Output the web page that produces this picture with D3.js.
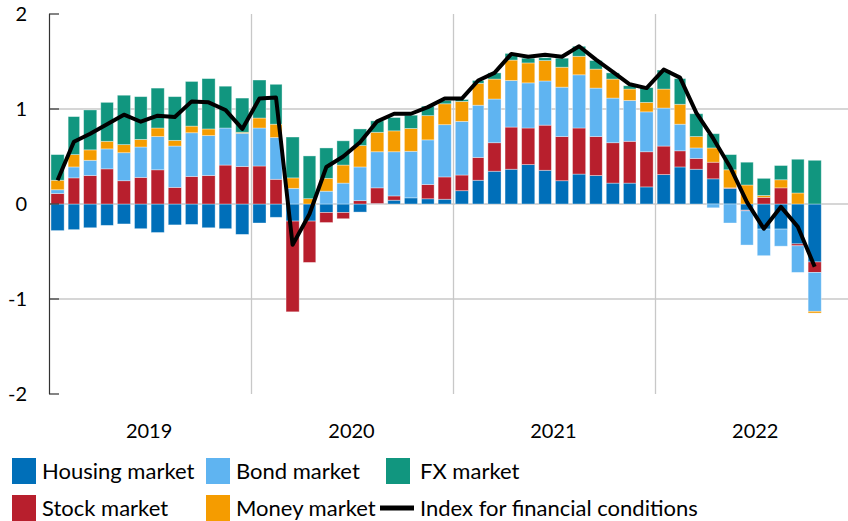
<!DOCTYPE html>
<html>
<head>
<meta charset="utf-8">
<script src="https://cdn.jsdelivr.net/npm/d3@7"></script>
<style>
  body { margin: 0; background: #fff; }
  text { font-family: Lato, 'Open Sans', sans-serif; fill: #000; }
</style>
</head>
<body>
<svg id="chart" width="848" height="521"></svg>
<script>
// Monthly contributions, Jan 2019 - Oct 2022
const months = d3.timeMonth.range(new Date(2019, 0, 1), new Date(2022, 10, 1));
const years = ['2019', '2020', '2021', '2022'];
const y_ticks = [-2, -1, 0, 1, 2];

const housing = [-0.28, -0.27, -0.25, -0.225, -0.21, -0.26, -0.30, -0.22, -0.215, -0.25, -0.26, -0.32,
  -0.20, -0.14, -0.18, -0.18, -0.09, -0.09, -0.085, 0.005, 0.04, 0.065, 0.055, 0.05,
  0.14, 0.25, 0.345, 0.366, 0.415, 0.355, 0.245, 0.315, 0.30, 0.22, 0.22, 0.18,
  0.31, 0.39, 0.366, 0.265, 0.165, -0.065, -0.264, -0.264, -0.42, -0.61];
const stock = [0.11, 0.275, 0.30, 0.37, 0.245, 0.28, 0.36, 0.175, 0.29, 0.30, 0.41, 0.395,
  0.40, 0.26, -0.955, -0.435, -0.105, -0.065, 0.035, 0.165, 0.045, 0, 0.15, 0.235,
  0.165, 0.24, 0.30, 0.444, 0.385, 0.475, 0.465, 0.485, 0.41, 0.425, 0.44, 0.37,
  0.30, 0.17, 0.114, 0.175, 0.005, -0.007, 0.07, 0.17, -0.02, -0.11];
const bond = [0.04, 0.115, 0.16, 0.21, 0.295, 0.32, 0.35, 0.435, 0.46, 0.42, 0.39, 0.35,
  0.40, 0.44, 0.165, 0, 0.135, 0.22, 0.355, 0.38, 0.465, 0.49, 0.47, 0.55,
  0.565, 0.55, 0.46, 0.49, 0.475, 0.465, 0.52, 0.56, 0.51, 0.47, 0.43, 0.42,
  0.40, 0.28, 0.11, -0.04, -0.20, -0.36, -0.28, -0.18, -0.28, -0.41];
const money = [0.10, 0.13, 0.11, 0.08, 0.085, 0.08, 0.09, 0.06, 0.07, 0.07, 0, 0.01,
  0.105, 0.14, 0.11, 0.056, 0.135, 0.19, 0.225, 0.205, 0.22, 0.24, 0.255, 0.22,
  0.21, 0.23, 0.21, 0.215, 0.21, 0.215, 0.21, 0.195, 0.20, 0.20, 0.12, 0.10,
  0.20, 0.21, 0.12, 0.15, 0.19, 0.20, 0.02, 0.085, 0.116, -0.018];
const fx = [0.27, 0.40, 0.42, 0.41, 0.52, 0.45, 0.42, 0.46, 0.47, 0.53, 0.44, 0.36,
  0.40, 0.42, 0.43, 0.45, 0.32, 0.255, 0.175, 0.12, 0.14, 0.14, 0.10, 0.035,
  0.02, 0.03, 0.065, 0.07, 0.05, 0.03, 0.095, 0.105, 0.09, 0.065, 0.035, 0.155,
  0.20, 0.27, 0.24, 0.15, 0.16, 0.24, 0.18, 0.15, 0.355, 0.46];
const fci = [0.25, 0.655, 0.74, 0.84, 0.94, 0.866, 0.93, 0.915, 1.08, 1.07, 0.99, 0.79,
  1.11, 1.12, -0.43, -0.105, 0.39, 0.50, 0.65, 0.87, 0.95, 0.95, 1.02, 1.11,
  1.11, 1.30, 1.38, 1.58, 1.55, 1.57, 1.55, 1.66, 1.52, 1.39, 1.26, 1.22,
  1.415, 1.33, 0.96, 0.69, 0.39, 0.02, -0.26, -0.03, -0.24, -0.66];

const series_keys = ['housing', 'stock', 'bond', 'money', 'fx'];
const colors = {
  housing: '#006fb9',
  stock: '#b81f2d',
  bond: '#5fb4f1',
  money: '#f59c00',
  fx: '#11967f',
};

const svg = d3.select('#chart');
const plot_left = 49;
const plot_top = 14;
const plot_bottom = 394;

const x = d3.scaleTime()
  .domain([new Date(2019, 0, 1), new Date(2023, 0, 1)])
  .range([plot_left, 857]);
const y = d3.scaleLinear()
  .domain([-2, 2])
  .range([plot_bottom, plot_top]);

const rows = months.map((m, i) => ({
  month: m,
  housing: housing[i],
  stock: stock[i],
  bond: bond[i],
  money: money[i],
  fx: fx[i],
}));

// Grid lines
const grid = svg.append('g');
grid.selectAll('line.h')
  .data([-1, 0, 1])
  .join('line')
  .attr('x1', plot_left)
  .attr('x2', 848)
  .attr('y1', d => y(d))
  .attr('y2', d => y(d))
  .attr('stroke', '#c8c8c8')
  .attr('stroke-width', 1.3);
grid.selectAll('line.v')
  .data(years.slice(1))
  .join('line')
  .attr('x1', d => Math.round(x(new Date(+d, 0, 1))) + 0.5)
  .attr('x2', d => Math.round(x(new Date(+d, 0, 1))) + 0.5)
  .attr('y1', plot_top)
  .attr('y2', plot_bottom)
  .attr('stroke', '#c8c8c8')
  .attr('stroke-width', 1.3);

// Stacked bars (positive and negative parts stacked separately)
const stacked = d3.stack()
  .keys(series_keys)
  .offset(d3.stackOffsetDiverging)(rows);

const barX = d => x(d.data.month) + 2;
const barW = d => x(d3.timeMonth.offset(d.data.month, 1)) - x(d.data.month) - 4;

svg.append('g')
  .selectAll('g')
  .data(stacked)
  .join('g')
  .attr('fill', s => colors[s.key])
  .selectAll('rect')
  .data(s => s)
  .join('rect')
  .attr('x', barX)
  .attr('width', barW)
  .attr('y', d => y(Math.max(d[0], d[1])))
  .attr('height', d => Math.abs(y(d[0]) - y(d[1])))
  .attr('stroke', '#ffffff')
  .attr('stroke-opacity', 0.45)
  .attr('stroke-width', 0.8);

// Index line
const line = d3.line()
  .x((d, i) => x(months[i]) + (x(d3.timeMonth.offset(months[i], 1)) - x(months[i])) / 2)
  .y(d => y(d));

svg.append('path')
  .datum(fci)
  .attr('d', line)
  .attr('fill', 'none')
  .attr('stroke', '#000')
  .attr('stroke-width', 4)
  .attr('stroke-linejoin', 'round');

// Y axis
const axis = svg.append('g');
axis.append('line')
  .attr('x1', plot_left + 0.5)
  .attr('x2', plot_left + 0.5)
  .attr('y1', plot_top)
  .attr('y2', plot_bottom)
  .attr('stroke', '#333')
  .attr('stroke-width', 1.2);
axis.selectAll('line.tick')
  .data(y_ticks)
  .join('line')
  .attr('x1', plot_left)
  .attr('x2', plot_left + 10)
  .attr('y1', d => y(d))
  .attr('y2', d => y(d))
  .attr('stroke', '#333')
  .attr('stroke-width', 1.2);
axis.selectAll('text')
  .data(y_ticks)
  .join('text')
  .attr('x', 27)
  .attr('y', d => y(d))
  .attr('dy', '0.35em')
  .attr('text-anchor', 'end')
  .attr('font-size', 20)
  .text(d => d);

// Year labels
svg.append('g')
  .selectAll('text')
  .data(years)
  .join('text')
  .attr('x', d => x(new Date(+d, 6, 1)))
  .attr('y', 438)
  .attr('text-anchor', 'middle')
  .attr('font-size', 20)
  .text(d => d);

// Legend
const legend_items = [
  { label: 'Housing market', key: 'housing', x: 12, y: 471 },
  { label: 'Bond market', key: 'bond', x: 206, y: 471 },
  { label: 'FX market', key: 'fx', x: 386, y: 471 },
  { label: 'Stock market', key: 'stock', x: 12, y: 508 },
  { label: 'Money market', key: 'money', x: 206, y: 508 },
];
const legend = svg.append('g');
legend_items.forEach((it) => {
  legend.append('rect')
    .attr('x', it.x)
    .attr('y', it.y - 13)
    .attr('width', 24)
    .attr('height', 26)
    .attr('fill', colors[it.key]);
  legend.append('text')
    .attr('x', it.x + (it.key === 'fx' ? 34 : 30))
    .attr('y', it.y + 8)
    .attr('font-size', 22)
    .text(it.label);
});
legend.append('line')
  .attr('x1', 380)
  .attr('x2', 414)
  .attr('y1', 508)
  .attr('y2', 508)
  .attr('stroke', '#000')
  .attr('stroke-width', 5);
legend.append('text')
  .attr('x', 420)
  .attr('y', 516)
  .attr('font-size', 22)
  .text('Index for financial conditions');
</script>
</body>
</html>
